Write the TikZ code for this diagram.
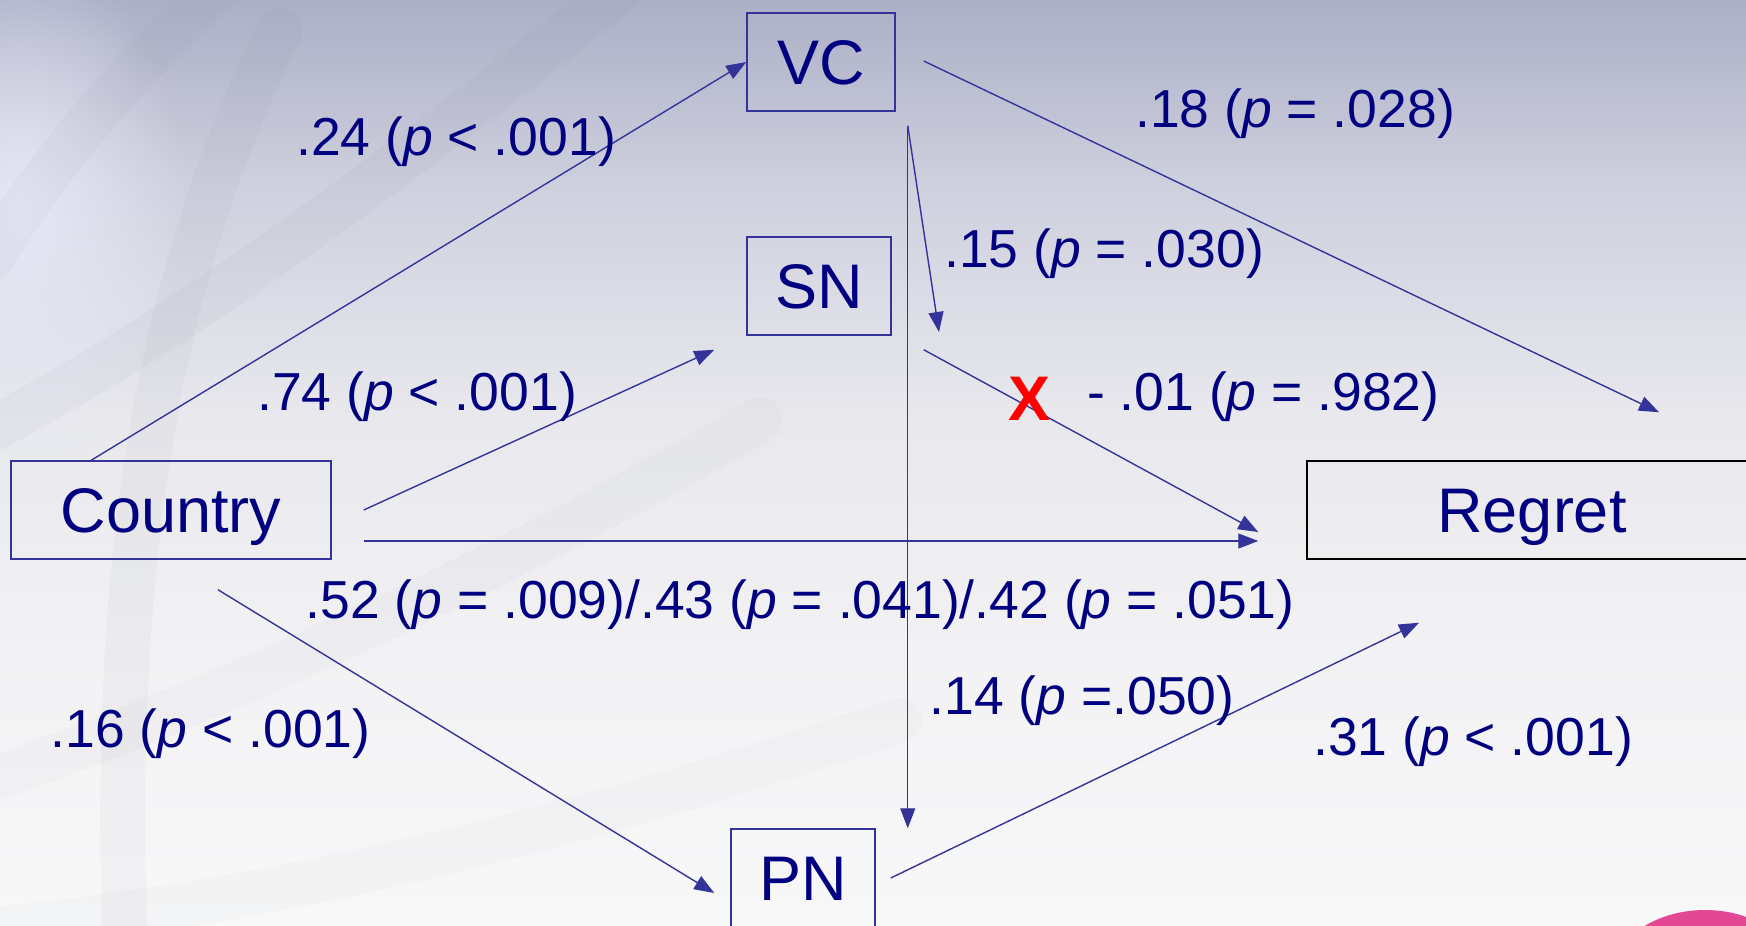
\documentclass[tikz,border=0pt]{standalone}
\usepackage{fontspec}
\setmainfont{Liberation Sans}
\usetikzlibrary{arrows.meta,calc,fadings}
\definecolor{navytext}{RGB}{0,0,128}
\definecolor{linecol}{RGB}{51,51,153}
\definecolor{bgtop}{RGB}{172,175,198}
\definecolor{bgq}{RGB}{206,208,222}
\definecolor{bgmid}{RGB}{232,232,237}
\definecolor{bglow}{RGB}{242,242,244}
\definecolor{bgbot}{RGB}{248,248,249}
\definecolor{glowcol}{RGB}{232,234,248}
\definecolor{bandcol}{RGB}{120,122,140}
\definecolor{pinkcol}{RGB}{226,72,148}
\pgfdeclareverticalshading{bgshade}{100bp}{color(0bp)=(bgbot); color(25bp)=(bgbot); color(40bp)=(bglow); color(52.5bp)=(bgmid); color(65bp)=(bgq); color(75bp)=(bgtop); color(100bp)=(bgtop)}
\tikzfading[name=glowfade, inner color=transparent!0, outer color=transparent!100]
\begin{document}
\begin{tikzpicture}[x=1pt,y=-1pt,
  box/.style={draw=linecol, line width=1.5pt, text=navytext,
    font=\fontsize{63}{70}\selectfont, inner sep=0pt,
    text height=45pt, text depth=0pt, minimum height=98pt},
  conn/.style={draw=linecol, line width=1.4pt, -{Triangle[length=20pt,width=15pt]}},
  lbl/.style={anchor=base west, text=navytext, font=\fontsize{53.5}{60}\selectfont, inner sep=0pt},
  band/.style={draw=bandcol, line cap=round, opacity=0.05, line width=45pt}
]
\useasboundingbox (0,0) rectangle (1746,926);
\clip (0,0) rectangle (1746,926);
% background
\shade[shading=bgshade] (0,0) rectangle (1746,926);
\fill[glowcol, path fading=glowfade, opacity=0.9] (20,210) ellipse (170 and 260);
\draw[band] (215,-10) .. controls (130,70) and (50,160) .. (-10,260);
\draw[band] (280,30) .. controls (170,250) and (110,520) .. (125,940);
\draw[band] (-10,430) .. controls (200,320) and (420,150) .. (620,-10);
\draw[band, opacity=0.035] (-10,780) .. controls (250,690) and (520,560) .. (760,420);
\draw[band, opacity=0.03] (-10,930) .. controls (300,900) and (600,820) .. (900,720);
\fill[pinkcol] (1705,980) ellipse (95 and 70);

% nodes
\node[box, minimum width=148pt] (VC) at (821,62) {VC};
\node[box, minimum width=144pt] (SN) at (819,286) {SN};
\node[box, minimum width=320pt] (Country) at (171,510) {Country};
\node[box, minimum width=144pt] (PN) at (803,878) {PN};
\node[box, draw=black, minimum width=450pt] (Regret) at (1532,510) {Regret};

\coordinate (modtip) at (939,332);

% connectors
\draw[conn] ($(Country.north west)+(81,0)$) -- (VC.west);
\draw[conn] ($(Country.east)+(32,0)$) -- ($(SN.south west)+(-32,14)$);
\draw[conn] ($(Country.east)+(32,31)$) -- ($(Regret.west)+(-48,31)$);
\draw[conn] ($(Country.south)+(47,30)$) -- ($(PN.west)+(-16,15)$);
\draw[conn] ($(VC.east)+(28,-1)$) -- ($(Regret.north)+(127,-48)$);
\draw[conn] ($(VC.south east)+(12,14)$) -- (modtip);
\draw[conn] ($(VC.south east)+(12,14)$) -- ($(PN.north east)+(32,0)$);
\draw[conn] ($(SN.south east)+(32,14)$) -- ($(Regret.west)+(-48,22)$);
\draw[conn] ($(PN.east)+(15,0)$) -- ($(Regret.south)+(-113,63)$);

% labels
\node[lbl] (l24) at (296,155) {.24 (\textit{p} < .001)};
\node[lbl] (l74) at (257,410.5) {.74 (\textit{p} < .001)};
\node[lbl] (l18) at (1135,127) {.18 (\textit{p} = .028)};
\node[lbl] (l15) at (944,267) {.15 (\textit{p} = .030)};
\node[lbl, text=red, font=\fontsize{63}{70}\selectfont\bfseries] (lx) at (1008,420.5) {X};
\node[lbl] (l01) at (1087,410.5) {- .01 (\textit{p} = .982)};
\node[lbl] (l52) at (305.5,618.5) {.52 (\textit{p} = .009)/.43 (\textit{p} = .041)/.42 (\textit{p} = .051)};
\node[lbl] (l14) at (929.5,714.5) {.14 (\textit{p} =.050)};
\node[lbl] (l16) at (50.5,747) {.16 (\textit{p} < .001)};
\node[lbl] (l31) at (1313,755.5) {.31 (\textit{p} < .001)};
\end{tikzpicture}
\end{document}
